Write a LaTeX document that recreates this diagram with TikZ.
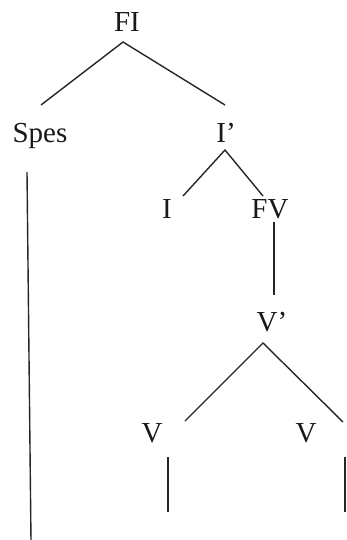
\documentclass[tikz,border=0pt]{standalone}
\usepackage{fontspec}
\setmainfont{Liberation Serif}
\begin{document}
\begin{tikzpicture}[x=1pt,y=-1pt,
  lbl/.style={anchor=base,inner sep=0pt,text=black!90,font=\fontsize{29}{31}\selectfont},
  br/.style={draw=black!85,line width=1.4pt}]
\useasboundingbox (0,0) rectangle (347,540);
% labels
\node[lbl] (FI) at (127,32) {FI};
\node[lbl] (Spes) at (40,143) {Spes};
\node[lbl] (Ip) at (226,143) {I’};
\node[lbl] (I) at (167,218) {I};
\node[lbl] (FV) at (270,218) {FV};
\node[lbl] (Vp) at (272,331) {V’};
\node[lbl] (V1) at (152,442) {V};
\node[lbl] (V2) at (306,442) {V};
% branch points
\coordinate (FIb) at (123,42);
\coordinate (Spest) at (41,105);
\coordinate (Ipt) at (225,105);
\coordinate (Ipb) at (225,150);
\coordinate (It) at (183,196);
\coordinate (FVt) at (263,196);
\coordinate (FVb) at (274,222);
\coordinate (Vpt) at (274,295);
\coordinate (Vpb) at (263,343);
\coordinate (V1t) at (185,421);
\coordinate (V2t) at (343,422);
\coordinate (Spesb) at (27,172);
\coordinate (SpesEnd) at (31,541);
\coordinate (V1b) at (168,457);
\coordinate (V1End) at (168,512);
\coordinate (V2b) at (345,457);
\coordinate (V2End) at (345,512);
% connectors
\draw[br] (Spest) -- (FIb) -- (Ipt);
\draw[br] (It) -- (Ipb) -- (FVt);
\draw[br] (FVb) -- (Vpt);
\draw[br] (V1t) -- (Vpb) -- (V2t);
\draw[br] (Spesb) -- (SpesEnd);
\draw[br] (V1b) -- (V1End);
\draw[br] (V2b) -- (V2End);
\end{tikzpicture}
\end{document}
